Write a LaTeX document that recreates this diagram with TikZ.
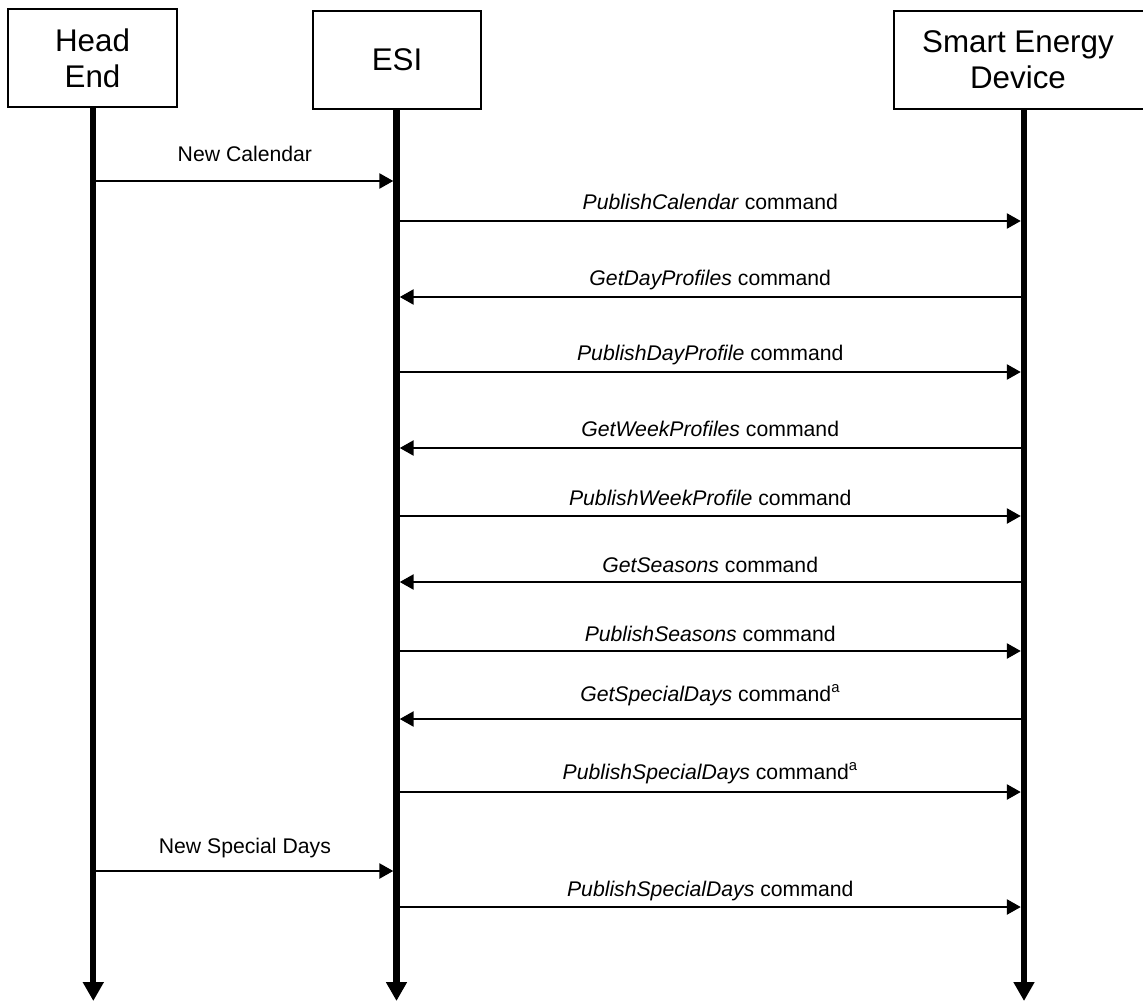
\documentclass[tikz,border=0pt]{standalone}
\usepackage{fontspec}
\setmainfont{Liberation Sans}
\usetikzlibrary{arrows.meta,calc}
\begin{document}
\begin{tikzpicture}[x=0.75pt,y=-0.75pt,
  actor/.style={draw,line width=1pt,inner sep=0pt,align=center,minimum height=73.5pt,font=\fontsize{23.5}{27}\selectfont},
  life/.style={line width=4.7pt,-{Triangle[length=14.25pt,width=15pt]}},
  msg/.style={line width=1.9pt,-{Triangle[length=10.5pt,width=11.25pt]},shorten >=2.4pt},
  lbl/.style={font=\fontsize{15.9}{19}\selectfont,anchor=base,inner sep=0pt}]
\useasboundingbox (0,0) rectangle (1143,1002);
% actors
\node[actor,minimum width=126.75pt] (he) at (92.5,58) {Head\\End};
\node[actor,minimum width=126pt] (esi) at (397,60) {ESI};
\node[actor,minimum width=210pt] (sed) at (1034,60) {\hspace*{-24pt}Smart Energy\\\hspace*{-24pt}Device};
% lifelines
\coordinate (hel) at (93.3,107);
\coordinate (esil) at (396.5,109);
\coordinate (sedl) at (1024,109);
\coordinate (heb) at (93.3,1001);
\coordinate (esib) at (396.5,1001);
\coordinate (sedb) at (1024,1001);
\draw[life] (hel) -- (heb);
\draw[life] (esil) -- (esib);
\draw[life] (sedl) -- (sedb);
% messages
\draw[msg] (hel |- 0,181) -- (esil |- 0,181);
\node[lbl] (l1) at (244.9,162) {New Calendar};
\draw[msg] (esil |- 0,221) -- (sedl |- 0,221);
\node[lbl] (l2) at (710.25,210) {\textit{PublishCalendar} command};
\draw[msg] (sedl |- 0,297) -- (esil |- 0,297);
\node[lbl] (l3) at (710.25,286) {\textit{GetDayProfiles} command};
\draw[msg] (esil |- 0,372) -- (sedl |- 0,372);
\node[lbl] (l4) at (710.25,360) {\textit{PublishDayProfile} command};
\draw[msg] (sedl |- 0,448) -- (esil |- 0,448);
\node[lbl] (l5) at (710.25,436) {\textit{GetWeekProfiles} command};
\draw[msg] (esil |- 0,516) -- (sedl |- 0,516);
\node[lbl] (l6) at (710.25,505) {\textit{PublishWeekProfile} command};
\draw[msg] (sedl |- 0,582) -- (esil |- 0,582);
\node[lbl] (l7) at (710.25,572) {\textit{GetSeasons} command};
\draw[msg] (esil |- 0,651) -- (sedl |- 0,651);
\node[lbl] (l8) at (710.25,641) {\textit{PublishSeasons} command};
\draw[msg] (sedl |- 0,719) -- (esil |- 0,719);
\node[lbl] (l9) at (710.25,701) {\textit{GetSpecialDays} command\textsuperscript{a}};
\draw[msg] (esil |- 0,792) -- (sedl |- 0,792);
\node[lbl] (l10) at (710.25,779) {\textit{PublishSpecialDays} command\textsuperscript{a}};
\draw[msg] (hel |- 0,871) -- (esil |- 0,871);
\node[lbl] (l11) at (244.9,853) {New Special Days};
\draw[msg] (esil |- 0,907) -- (sedl |- 0,907);
\node[lbl] (l12) at (710.25,896) {\textit{PublishSpecialDays} command};
\end{tikzpicture}
\end{document}
